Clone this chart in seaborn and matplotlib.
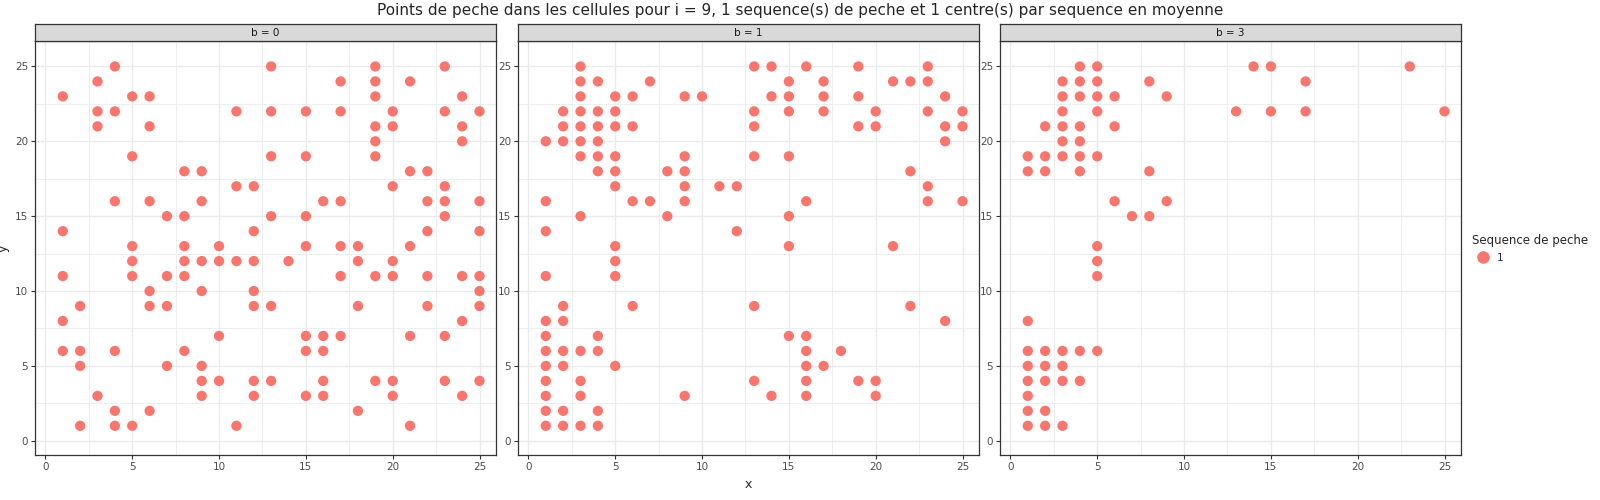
import matplotlib
matplotlib.use("Agg")
import matplotlib.pyplot as plt
import seaborn as sns
import pandas as pd
from matplotlib.lines import Line2D

# points per panel, grouped by y value: {y: [x values]}
rows_b0 = {
    25: [4, 13, 19, 23], 24: [3, 17, 19, 21], 23: [1, 5, 6, 19, 24],
    22: [3, 4, 11, 13, 15, 17, 20, 23, 25], 21: [3, 6, 19, 20, 24], 20: [19, 24],
    19: [5, 13, 15, 19], 18: [8, 9, 21, 22], 17: [11, 12, 20, 23],
    16: [4, 6, 9, 16, 17, 22, 23, 25], 15: [7, 8, 13, 15, 23], 14: [1, 12, 22, 25],
    13: [5, 8, 10, 15, 17, 18, 21], 12: [5, 8, 9, 10, 11, 12, 14, 18, 20],
    11: [1, 5, 7, 8, 17, 19, 20, 22, 24, 25], 10: [6, 9, 12, 25],
    9: [2, 6, 7, 12, 13, 18, 22, 25], 8: [1, 24], 7: [10, 15, 16, 17, 21, 23],
    6: [1, 2, 4, 8, 15, 16], 5: [2, 7, 9], 4: [9, 10, 12, 13, 16, 19, 20, 23, 25],
    3: [3, 9, 12, 15, 16, 20, 24], 2: [4, 6, 18], 1: [2, 4, 5, 11, 21],
}
rows_b1 = {
    25: [3, 13, 14, 16, 19, 23], 24: [3, 4, 7, 15, 17, 21, 22, 23],
    23: [3, 5, 6, 9, 10, 14, 15, 17, 19, 24], 22: [2, 3, 4, 5, 13, 15, 17, 20, 23, 25],
    21: [2, 3, 4, 5, 6, 13, 19, 20, 24, 25], 20: [1, 2, 3, 4, 24],
    19: [3, 4, 5, 9, 13, 15], 18: [4, 5, 8, 9, 22], 17: [5, 9, 11, 12, 23],
    16: [1, 6, 7, 9, 16, 23, 25], 15: [3, 8, 15], 14: [1, 12], 13: [5, 15, 21],
    12: [5], 11: [1, 5], 9: [2, 6, 13, 22], 8: [1, 2, 24], 7: [1, 4, 15, 16],
    6: [1, 2, 3, 4, 16, 18], 5: [1, 2, 5, 16, 17], 4: [1, 3, 13, 16, 19, 20],
    3: [1, 3, 9, 14, 16, 20], 2: [1, 2, 4], 1: [1, 2, 3, 4],
}
rows_b3 = {
    25: [4, 5, 14, 15, 23], 24: [3, 4, 5, 8, 17], 23: [3, 4, 5, 6, 9],
    22: [3, 5, 13, 15, 17, 25], 21: [2, 3, 4, 6], 20: [3, 4], 19: [1, 2, 3, 4, 5],
    18: [1, 2, 4, 8], 16: [6, 9], 15: [7, 8], 13: [5], 12: [5], 11: [5], 8: [1],
    6: [1, 2, 3, 4, 5], 5: [1, 2, 3], 4: [1, 2, 3, 4], 3: [1], 2: [1, 2], 1: [1, 2, 3],
}
panel_labels = ["b = 0", "b = 1", "b = 3"]
tick_vals = [0, 5, 10, 15, 20, 25]

def to_df(rows):
    xs, ys = [], []
    for yv, xl in rows.items():
        for xv in xl:
            xs.append(xv); ys.append(yv)
    return pd.DataFrame({"x": xs, "y": ys, "seq": "1"})

sns.set_style("white")
plt.rcParams['font.family'] = ['DejaVu Sans']
fig = plt.figure(figsize=(16, 5), dpi=100)
red = "#F8766D"
lefts = [35, 518, 1000]
width = 461
bottom_px, top_px = 455, 41
for i, (rows, lab) in enumerate(zip([rows_b0, rows_b1, rows_b3], panel_labels)):
    ax = fig.add_axes([lefts[i] / 1600, (500 - bottom_px) / 500, width / 1600, (bottom_px - top_px) / 500])
    sns.scatterplot(data=to_df(rows), x="x", y="y", color=red, s=55, edgecolor="none", ax=ax, legend=False, zorder=3)
    ax.set_xlim(-0.6, 25.95)
    ax.set_ylim(-0.95, 26.7)
    ax.set_xticks(tick_vals); ax.set_yticks(tick_vals)
    ax.set_xticks([2.5, 7.5, 12.5, 17.5, 22.5], minor=True)
    ax.set_yticks([2.5, 7.5, 12.5, 17.5, 22.5], minor=True)
    ax.grid(True, which="major", color="#EBEBEB", lw=1.0, zorder=0)
    ax.grid(True, which="minor", color="#EBEBEB", lw=0.6, zorder=0)
    ax.tick_params(axis="both", which="major", labelsize=7.5, labelcolor="#4D4D4D",
                   length=3, width=0.8, color="#333333", bottom=True, left=True, pad=2)
    ax.tick_params(which="minor", length=0)
    for sp in ax.spines.values():
        sp.set_color("#333333"); sp.set_linewidth(0.9)
    ax.set_xlabel("x" if i == 1 else "", fontsize=9)
    ax.set_ylabel("y" if i == 0 else "", fontsize=9)
    if i == 0:
        ax.yaxis.set_label_coords(-0.055, 0.5)
    # strip
    sax = fig.add_axes([lefts[i] / 1600, (500 - top_px) / 500, width / 1600, 17 / 500])
    sax.set_xticks([]); sax.set_yticks([])
    sax.set_facecolor("#D9D9D9")
    for sp in sax.spines.values():
        sp.set_color("#333333"); sp.set_linewidth(0.9)
    sax.text(0.5, 0.5, lab, ha="center", va="center", fontsize=7.5, color="#1A1A1A", transform=sax.transAxes)

fig.text(0.5, 0.978, "Points de peche dans les cellules pour i = 9, 1 sequence(s) de peche et 1 centre(s) par sequence en moyenne",
         ha="center", va="center", fontsize=11)
handle = Line2D([], [], marker="o", color=red, linestyle="none", markersize=8)
fig.legend([handle], ["1"], title="Sequence de peche", loc="upper left",
           bbox_to_anchor=(1463 / 1600, 1 - 225 / 500), frameon=False, fontsize=7.5,
           title_fontsize=8.5, handletextpad=0.3, alignment="left")
fig.savefig("out.png", dpi=100)
